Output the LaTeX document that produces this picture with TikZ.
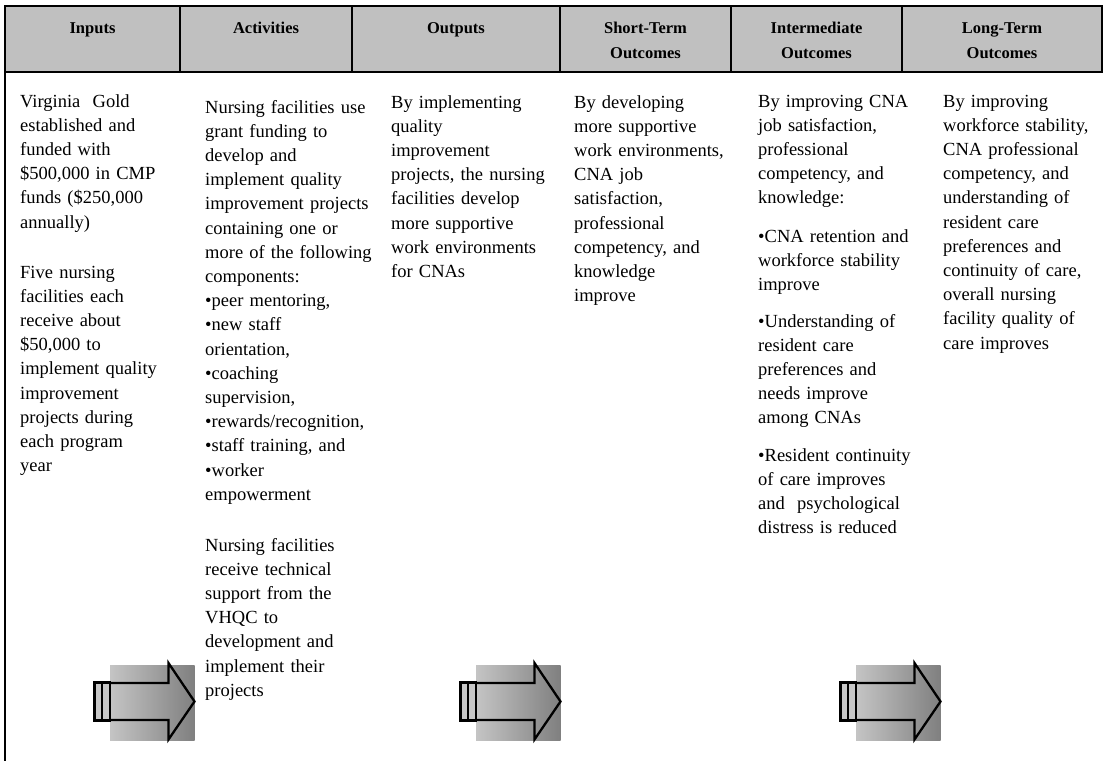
\documentclass[tikz,border=0pt]{standalone}
\usepackage{fontspec}
\setmainfont{Liberation Serif}
\begin{document}
\begin{tikzpicture}[x=1pt,y=-1pt,
  frame/.style={draw=black,line width=1.8pt},
  hdr/.style={font=\bfseries\fontsize{16.5}{25}\selectfont,anchor=base,align=center,inner sep=0pt,text width=165pt},
  body/.style={font=\fontsize{18.5}{24.2}\selectfont,anchor=base west,align=left,inner sep=0pt,text width=175pt},
  arrowline/.style={draw=black,line width=2.3pt,line join=miter},
  bigarrow/.pic={
    \shade[left color=black!23,right color=black!50] (0,665) rectangle (84.5,740);
    \draw[arrowline,fill=black!22] (-15.5,682.5) rectangle (-8,720.5);
    \draw[arrowline,fill=black!22] (-8,682.5) rectangle (0,720.5);
    \draw[arrowline] (0,683) -- (58.5,683) -- (58.5,663) -- (84.5,701.5) -- (58.5,739.5) -- (58.5,720) -- (0,720);
  }]
\useasboundingbox (0,0) rectangle (1104,761);
\fill[white] (0,0) rectangle (1104,761);
% header band
\draw[frame,fill={rgb,255:red,192;green,192;blue,192}] (5,6) rectangle (1102,72);
\foreach \xx in {180,352,560,731,902}{\draw[frame] (\xx,6) -- (\xx,72);}
\draw[frame] (5,72) -- (5,761);
% headers
\node[hdr] (h1) at (92.5,33) {Inputs};
\node[hdr] (h2) at (266,33) {Activities};
\node[hdr] (h3) at (456,33) {Outputs};
\node[hdr] (h4) at (645.5,33) {Short-Term\\Outcomes};
\node[hdr] (h5) at (816.5,33) {Intermediate\\Outcomes};
\node[hdr] (h6) at (1002,33) {Long-Term\\Outcomes};
% column 1
\node[body] (c1a) at (20,107) {Virginia\ \ Gold\\established and\\funded with\\\$500,000 in CMP\\funds (\$250,000\\annually)};
\node[body] (c1b) at (20,278) {Five nursing\\facilities each\\receive about\\\$50,000 to\\implement quality\\improvement\\projects during\\each program\\year};
% column 2
\node[body] (c2a) at (205,113) {Nursing facilities use\\grant funding to\\develop and\\implement quality\\improvement projects\\containing one or\\more of the following\\components:\\•peer mentoring,\\•new staff\\orientation,\\•coaching\\supervision,\\•rewards/recognition,\\•staff training, and\\•worker\\empowerment};
\node[body] (c2b) at (205,551) {Nursing facilities\\receive technical\\support from the\\VHQC to\\development and\\implement their\\projects};
% column 3
\node[body] (c3) at (391,108) {By implementing\\quality\\improvement\\projects, the nursing\\facilities develop\\more supportive\\work environments\\for CNAs};
% column 4
\node[body] (c4) at (574,108) {By developing\\more supportive\\work environments,\\CNA job\\satisfaction,\\professional\\competency, and\\knowledge\\improve};
% column 5
\node[body] (c5a) at (758,107) {By improving CNA\\job satisfaction,\\professional\\competency, and\\knowledge:};
\node[body] (c5b) at (758,242) {•CNA retention and\\workforce stability\\improve};
\node[body] (c5c) at (758,327) {•Understanding of\\resident care\\preferences and\\needs improve\\among CNAs};
\node[body] (c5d) at (758,461) {•Resident continuity\\of care improves\\and\ \ psychological\\distress is reduced};
% column 6
\node[body] (c6) at (943,107) {By improving\\workforce stability,\\CNA professional\\competency, and\\understanding of\\resident care\\preferences and\\continuity of care,\\overall nursing\\facility quality of\\care improves};
% arrows
\pic at (110,0) {bigarrow};
\pic at (476,0) {bigarrow};
\pic at (856,0) {bigarrow};
\end{tikzpicture}
\end{document}
